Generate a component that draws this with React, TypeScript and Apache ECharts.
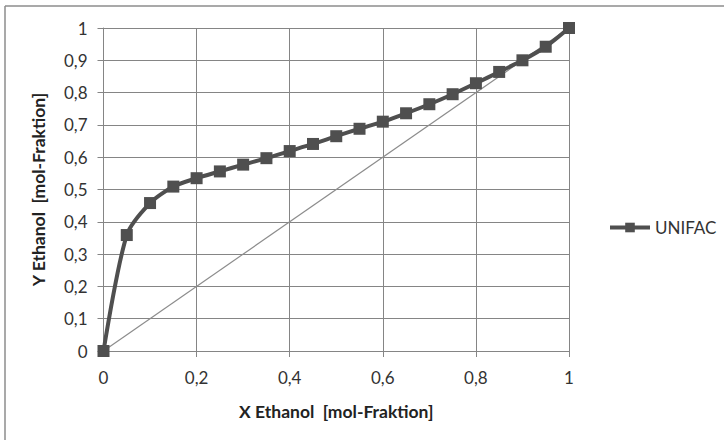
import React, { useEffect, useRef } from "react";
import * as echarts from "echarts";

const xEthanol = [0, 0.05, 0.1, 0.15, 0.2, 0.25, 0.3, 0.35, 0.4, 0.45, 0.5, 0.55, 0.6, 0.65, 0.7, 0.75, 0.8, 0.85, 0.9, 0.95, 1];
const yUnifac = [0, 0.359, 0.458, 0.509, 0.535, 0.556, 0.577, 0.597, 0.619, 0.641, 0.665, 0.688, 0.71, 0.736, 0.764, 0.795, 0.829, 0.864, 0.9, 0.942, 1];
const diagonalX = [0, 1];
const diagonalY = [0, 1];
const seriesName = "UNIFAC";
const xTitle = "X Ethanol  [mol-Fraktion]";
const yTitle = "Y Ethanol  [mol-Fraktion]";

const FONT = "Lato";
const fmt = (v: number) => String(+v.toFixed(1)).replace(".", ",");

export default function App() {
  const ref = useRef<HTMLDivElement>(null);
  useEffect(() => {
    if (!ref.current) return;
    const chart = echarts.init(ref.current, undefined, { renderer: "svg" });
    const gridColor = "#858585";
    chart.setOption({
      animation: false,
      backgroundColor: "#ffffff",
      textStyle: { fontFamily: FONT },
      grid: { left: 103.5, right: 155, top: 28, bottom: 89, containLabel: false },
      legend: {
        data: [seriesName],
        left: 603,
        top: 214,
        itemWidth: 40,
        itemHeight: 12,
        itemGap: 4,
        lineStyle: { width: 4, color: "#4f4f4f" },
        textStyle: { fontFamily: FONT, fontSize: 17, color: "#333" },
      },
      graphic: [
        { type: "line", shape: { x1: 5, y1: 6, x2: 724, y2: 6 }, style: { stroke: "#8c8c8c", lineWidth: 1.5 } },
        { type: "line", shape: { x1: 5, y1: 6, x2: 5, y2: 440 }, style: { stroke: "#8c8c8c", lineWidth: 1.5 } },
      ],
      xAxis: {
        type: "value",
        min: 0,
        max: 1,
        interval: 0.2,
        name: xTitle,
        nameLocation: "middle",
        nameGap: 51,
        nameTextStyle: { fontFamily: FONT, fontSize: 17.5, fontWeight: "bold", color: "#222" },
        axisLine: { show: true, lineStyle: { color: gridColor, width: 1 } },
        axisTick: { show: true, length: 6, lineStyle: { color: gridColor } },
        axisLabel: { formatter: fmt, fontSize: 17, color: "#333", margin: 18, fontFamily: FONT },
        splitLine: { show: true, lineStyle: { color: gridColor, width: 1 } },
      },
      yAxis: {
        type: "value",
        min: 0,
        max: 1,
        interval: 0.1,
        name: yTitle,
        nameLocation: "middle",
        nameGap: 56,
        nameRotate: 90,
        nameTextStyle: { fontFamily: FONT, fontSize: 17.5, fontWeight: "bold", color: "#222" },
        axisLine: { show: true, lineStyle: { color: gridColor, width: 1 } },
        axisTick: { show: true, length: 6, lineStyle: { color: gridColor } },
        axisLabel: { formatter: fmt, fontSize: 17, color: "#333", margin: 16, fontFamily: FONT },
        splitLine: { show: true, lineStyle: { color: gridColor, width: 1 } },
      },
      series: [
        {
          name: "diagonal",
          type: "line",
          data: diagonalX.map((x, i) => [x, diagonalY[i]]),
          showSymbol: false,
          symbol: "none",
          lineStyle: { color: "#8c8c8c", width: 1.2 },
          z: 1,
          silent: true,
        },
        {
          name: seriesName,
          type: "line",
          smooth: 0.25,
          data: xEthanol.map((x, i) => [x, yUnifac[i]]),
          symbol: "rect",
          symbolSize: 12,
          itemStyle: { color: "#4f4f4f" },
          lineStyle: { color: "#4f4f4f", width: 4 },
          z: 3,
        },
      ],
    });
    return () => chart.dispose();
  }, []);
  return (
    <div
      ref={ref}
      style={{ position: "fixed", left: 0, top: 0, width: 724, height: 440 }}
    />
  );
}
